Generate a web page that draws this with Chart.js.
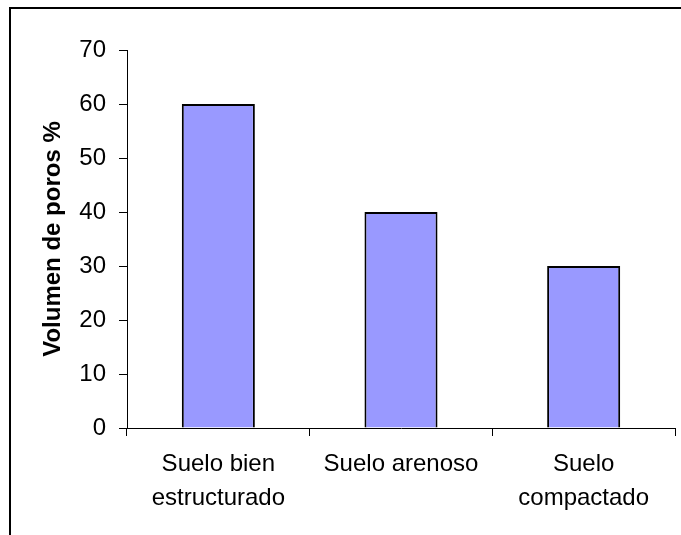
<!DOCTYPE html>
<html>
<head>
<meta charset="utf-8">
<script src="https://cdn.jsdelivr.net/npm/chart.js@4/dist/chart.umd.min.js"></script>
<style>
  html, body { margin: 0; padding: 0; background: #fff; }
  #wrap { width: 681px; height: 535px; position: relative; }
</style>
</head>
<body>
<div id="wrap"><canvas id="c" width="681" height="535"></canvas></div>
<script>
const categories = [["Suelo bien", "estructurado"], "Suelo arenoso", ["Suelo", "compactado"]];
const poreVolume = [60, 40, 30];
const yTicks = [0, 10, 20, 30, 40, 50, 60, 70];
const yTitle = "Volumen de poros %";

const framePlugin = {
  id: 'frame',
  beforeDraw(chart) {
    const ctx = chart.ctx;
    ctx.save();
    ctx.fillStyle = '#fff';
    ctx.fillRect(0, 0, chart.width, chart.height);
    ctx.restore();
  },
  afterDraw(chart) {
    const ctx = chart.ctx;
    ctx.save();
    ctx.strokeStyle = '#000';
    ctx.lineWidth = 2;
    ctx.strokeRect(10, 8, 700, 600);
    ctx.restore();
  }
};

new Chart(document.getElementById('c'), {
  type: 'bar',
  data: {
    labels: categories,
    datasets: [{
      data: poreVolume,
      backgroundColor: '#9999FF',
      borderColor: '#000',
      borderWidth: 2,
      barPercentage: 0.4,
      categoryPercentage: 1
    }]
  },
  options: {
    responsive: false,
    animation: false,
    devicePixelRatio: 1,
    layout: { padding: { left: 0, right: 6, top: 50, bottom: 0 } },
    plugins: { legend: { display: false }, tooltip: { enabled: false } },
    scales: {
      x: {
        afterFit(s) { s.height = 107; },
        grid: { display: true, drawOnChartArea: false, drawTicks: true, tickLength: 8, tickColor: '#000', offset: true },
        border: { display: true, color: '#000', width: 1 },
        ticks: {
          color: '#000',
          padding: 12,
          maxRotation: 0,
          autoSkip: false,
          font: { family: '"Liberation Sans", Arial, sans-serif', size: 24, lineHeight: 1.4 }
        }
      },
      y: {
        min: 0,
        max: 70,
        afterFit(s) { s.width = 127; },
        afterBuildTicks(s) { s.ticks = yTicks.map(v => ({ value: v })); },
        grid: { display: true, drawOnChartArea: false, drawTicks: true, tickLength: 8, tickColor: '#000' },
        border: { display: true, color: '#000', width: 1 },
        ticks: {
          color: '#000',
          padding: 13,
          font: { family: '"Liberation Sans", Arial, sans-serif', size: 24 }
        },
        title: {
          display: true,
          text: yTitle,
          color: '#000',
          padding: { top: 39, bottom: 0 },
          font: { family: '"Liberation Sans", Arial, sans-serif', size: 24, weight: 'bold', lineHeight: 1.2 }
        }
      }
    }
  },
  plugins: [framePlugin]
});
</script>
</body>
</html>
